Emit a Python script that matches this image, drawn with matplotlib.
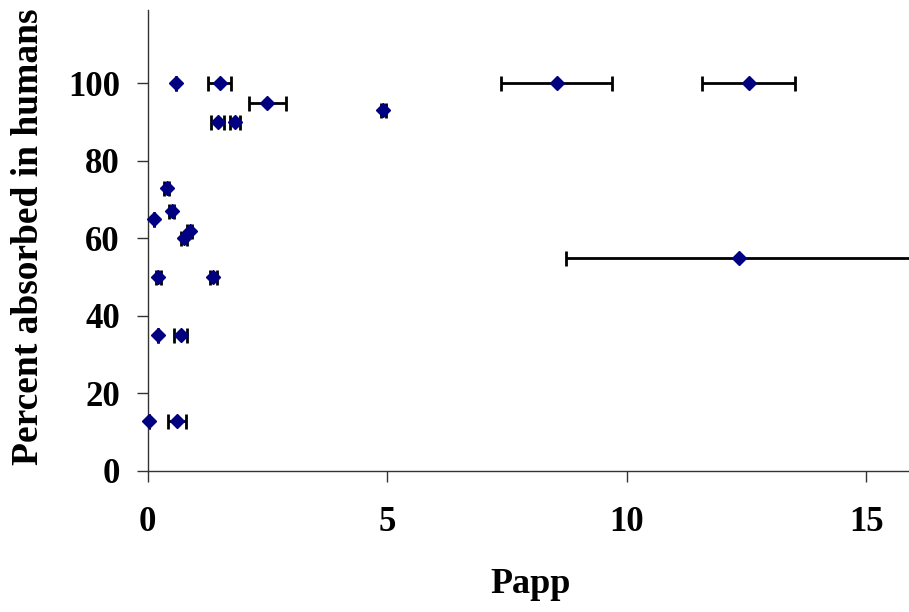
import matplotlib
matplotlib.use("Agg")
import matplotlib.pyplot as plt

# Papp values, percent absorbed and horizontal error
papp = [0.60, 1.50, 2.50, 1.46, 1.82, 0.40, 0.50, 0.14, 0.88, 0.76,
        0.22, 1.37, 0.215, 0.69, 0.03, 0.605, 4.92, 8.54, 12.54, 12.34]
absorbed = [100, 100, 95, 90, 90, 73, 67, 65, 62, 60,
            50, 50, 35, 35, 13, 13, 93, 100, 100, 55]
papp_err = [0, 0.24, 0.39, 0.14, 0.11, 0.05, 0.05, 0, 0.05, 0.06,
            0.05, 0.07, 0, 0.14, 0, 0.19, 0.05, 1.16, 0.98, 3.61]

x_ticks = [0, 5, 10, 15]
y_ticks = [0, 20, 40, 60, 80, 100]

plt.rcParams['font.family'] = ['Liberation Serif', 'DejaVu Serif']
plt.rcParams['font.weight'] = 'bold'

fig = plt.figure(figsize=(9.09, 6.12), dpi=100)
ax = fig.add_axes([0.1625, 0.2304, 0.8375, 0.7533])

ax.errorbar(papp, absorbed, xerr=papp_err, fmt='none', ecolor='black',
            elinewidth=2.0, capsize=5.4, capthick=2.0, zorder=2)
ax.plot(papp, absorbed, linestyle='none', marker='D', markersize=7.4,
        color='#000080', markeredgecolor='#000080', zorder=3, clip_on=False)

ax.set_xlim(0, 15.89)
ax.set_ylim(0, 118.9)
ax.set_xticks(x_ticks)
ax.set_yticks(y_ticks)

for side in ['top', 'right']:
    ax.spines[side].set_visible(False)
for side in ['left', 'bottom']:
    ax.spines[side].set_color('#333333')
    ax.spines[side].set_linewidth(1.0)

ax.tick_params(axis='both', direction='out', length=8, width=1.0,
               color='#333333', labelsize=25)
ax.tick_params(axis='y', pad=12)
ax.tick_params(axis='x', pad=17)
for lab in ax.get_xticklabels() + ax.get_yticklabels():
    lab.set_fontweight('bold')

fig.text(0.584, 0.045, 'Papp', ha='center', va='center',
         fontsize=26, fontweight='bold')
fig.text(0.031, 0.613, 'Percent absorbed in humans', ha='center', va='center',
         rotation=90, fontsize=27, fontweight='bold')

fig.savefig('out.png', dpi=100)
